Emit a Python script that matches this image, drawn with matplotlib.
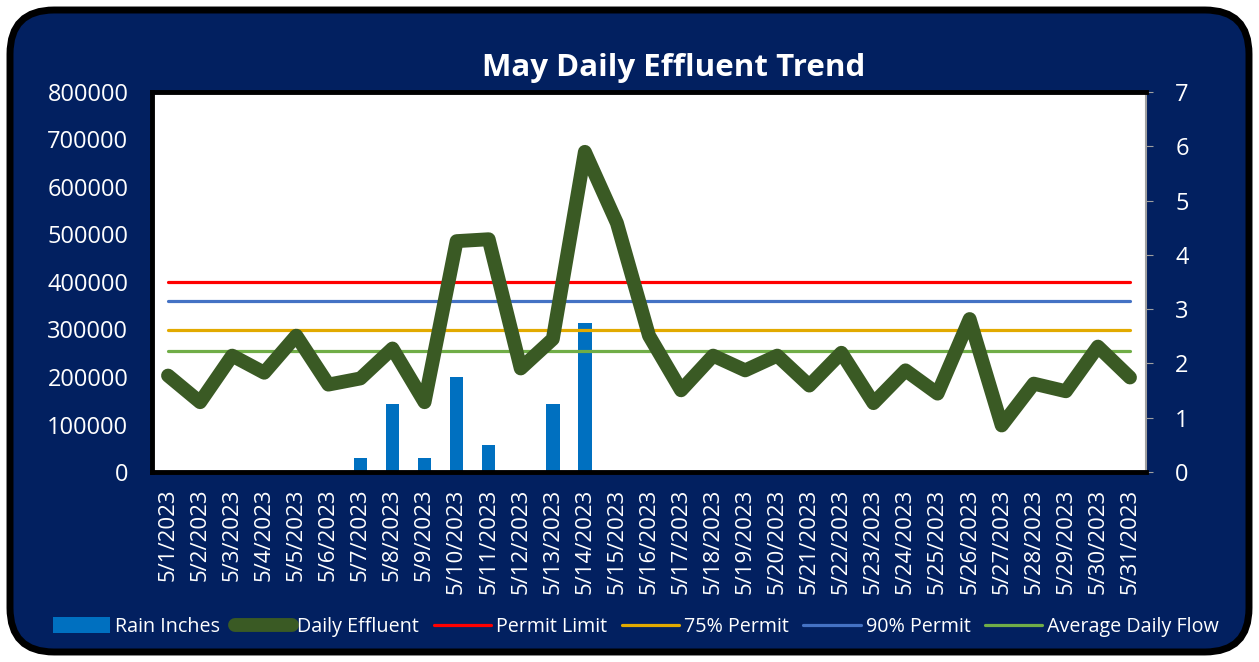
import matplotlib
matplotlib.use("Agg")
import matplotlib.pyplot as plt
from matplotlib.patches import FancyBboxPatch
import numpy as np

plt.rcParams['font.family'] = ['Open Sans', 'DejaVu Sans']

dates = [f"5/{d}/2023" for d in range(1, 32)]
daily_effluent = [203000, 147000, 245000, 209000, 287000, 184000, 197000, 260000, 147000, 486000,
                  490000, 218000, 280000, 674000, 524000, 287000, 172000, 245000, 214000, 245000,
                  182000, 251000, 145000, 214000, 165000, 322000, 98000, 186000, 170000, 264000, 199000]
rain_inches = [0, 0, 0, 0, 0, 0, 0.25, 1.25, 0.25, 1.75, 0.5, 0, 1.25, 2.75, 0, 0,
               0, 0, 0, 0, 0, 0, 0, 0, 0, 0, 0, 0, 0, 0, 0]
permit_limit = 400000
permit_90 = 360000
permit_75 = 300000
average_daily_flow = 255000

NAVY = '#022060'
W, H = 1259, 662
fig = plt.figure(figsize=(W / 100, H / 100), dpi=100, facecolor='white')

# rounded background
bg = FancyBboxPatch((10 / W, 10 / H), (W - 20) / W, (H - 20) / H,
                    boxstyle="round,pad=0.0,rounding_size=0.035",
                    transform=fig.transFigure, facecolor=NAVY, edgecolor='black',
                    linewidth=5, zorder=-10, mutation_aspect=W / H)
fig.patches.append(bg)

x0, x1, y0, y1 = 152, 1146, 92, 472
ax2 = fig.add_axes([x0 / W, 1 - y1 / H, (x1 - x0) / W, (y1 - y0) / H], zorder=1)
ax2.set_facecolor('white')
ax = fig.add_axes([x0 / W, 1 - y1 / H, (x1 - x0) / W, (y1 - y0) / H], zorder=2)
ax.patch.set_visible(False)

x = np.arange(len(dates))
n = len(dates)

bars = ax2.bar(x, rain_inches, width=0.42, color='#0070C0', zorder=1, label='Rain Inches')
ax2.set_ylim(0, 7)
ax2.set_xlim(-0.5, n - 0.5)
ax2.set_yticks(range(0, 8))
ax2.yaxis.tick_right()
ax2.set_xticks([])

ax.set_ylim(0, 800000)
ax.set_xlim(-0.5, n - 0.5)
ax.set_yticks(range(0, 800001, 100000))

l1, = ax.plot(x, daily_effluent, color='#3A5A24', lw=10, solid_joinstyle='round',
              solid_capstyle='round', label='Daily Effluent', zorder=3)
l2, = ax.plot(x, [permit_limit] * n, color='#FF0000', lw=2.3, solid_capstyle='round',
              label='Permit Limit', zorder=2)
l3, = ax.plot(x, [permit_75] * n, color='#E2AA00', lw=2.3, solid_capstyle='round',
              label='75% Permit', zorder=2)
l4, = ax.plot(x, [permit_90] * n, color='#4472C4', lw=2.3, solid_capstyle='round',
              label='90% Permit', zorder=2)
l5, = ax.plot(x, [average_daily_flow] * n, color='#70AD47', lw=2.3, solid_capstyle='round',
              label='Average Daily Flow', zorder=2)

ax.set_xticks(x)
ax.set_xticklabels(dates, rotation=90, color='white', fontsize=16)
ax.tick_params(axis='x', length=0, pad=12)
ax.tick_params(axis='y', length=0, pad=17, labelcolor='white', labelsize=17)
ax2.tick_params(axis='y', length=5, color='#A0A0A0', pad=16, labelcolor='white', labelsize=17)

for s in ['left', 'top', 'bottom']:
    ax.spines[s].set_color('black')
    ax.spines[s].set_linewidth(3.5)
ax.spines['right'].set_visible(False)
for s in ['left', 'top', 'bottom']:
    ax2.spines[s].set_visible(False)
ax2.spines['right'].set_color('#A0A0A0')
ax2.spines['right'].set_linewidth(1.5)

fig.text(674 / W, 1 - 68 / H, 'May Daily Effluent Trend', ha='center', va='center',
         color='white', fontsize=22.5, fontweight='bold')

handles = [bars, l1, l2, l3, l4, l5]
labels = ['Rain Inches', 'Daily Effluent', 'Permit Limit', '75% Permit', '90% Permit',
          'Average Daily Flow']
leg = fig.legend(handles, labels, loc='center', bbox_to_anchor=(636 / W, 1 - 627 / H), ncol=6,
                 frameon=False, fontsize=14.2, labelcolor='white', handlelength=2.9,
                 handletextpad=0.25, columnspacing=0.75, handleheight=0.9)

fig.savefig('out.png', dpi=100, facecolor='white')
